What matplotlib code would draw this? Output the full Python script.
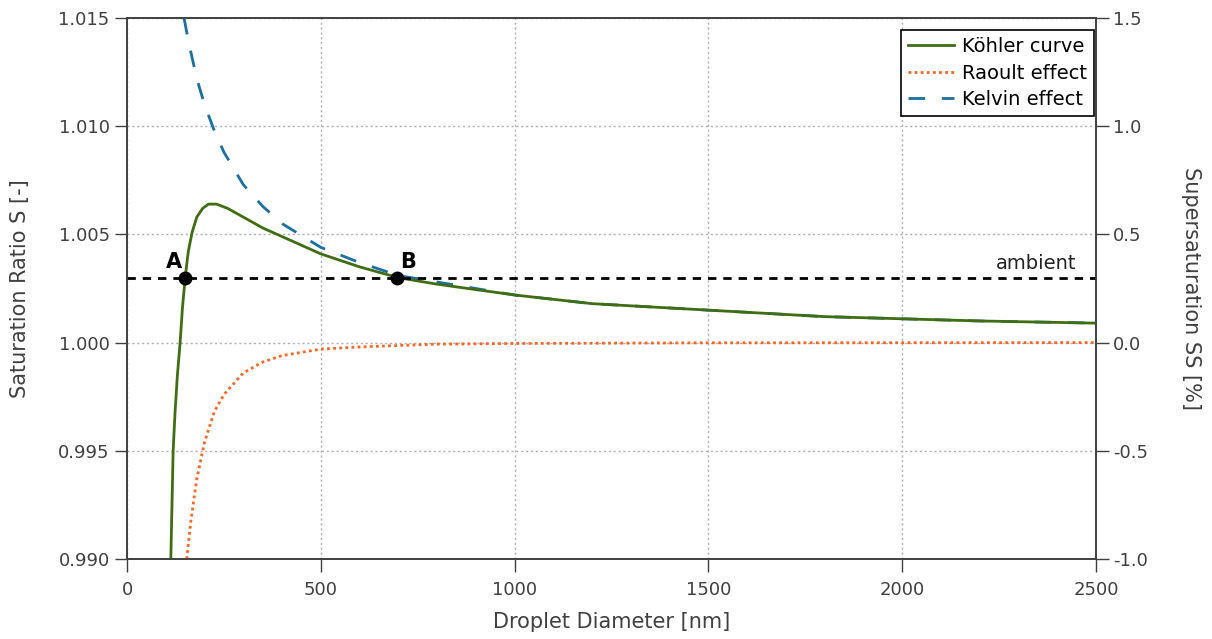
import numpy as np
import matplotlib.pyplot as plt
from matplotlib.ticker import FormatStrFormatter, MultipleLocator

plt.rcParams['font.family'] = ['DejaVu Sans']

# values (diameter in nm, saturation ratio)
kohler_d = [113, 116, 119, 124, 130, 137, 143, 150, 158, 168, 180, 195, 210, 231,
            260, 300, 350, 400, 500, 600, 700, 800, 1000, 1200, 1500, 1800, 2000, 2200, 2500]
kohler_s = [0.9900, 0.9925, 0.9950, 0.9968, 0.9985, 1.0000, 1.0016, 1.0030, 1.0042, 1.0051,
            1.0058, 1.0062, 1.0064, 1.0064, 1.0062, 1.0058, 1.0053, 1.0049, 1.0041, 1.0035,
            1.0030, 1.0027, 1.0022, 1.0018, 1.0015, 1.0012, 1.0011, 1.0010, 1.0009]

raoult_d = [154, 165, 180, 200, 225, 250, 300, 350, 400, 500, 600, 800, 1000, 1500, 2500]
raoult_s = [0.9900, 0.9918, 0.9937, 0.9954, 0.9968, 0.9976, 0.9986, 0.9991, 0.9994,
            0.9997, 0.9998, 0.99993, 0.99996, 0.99999, 1.0000]

kelvin_d = [147, 160, 180, 200, 225, 250, 300, 350, 400, 500, 600, 700, 800, 1000,
            1200, 1500, 1800, 2000, 2200, 2500]
kelvin_s = [1.0150, 1.0138, 1.0122, 1.0110, 1.0098, 1.0088, 1.0073, 1.0063, 1.0055, 1.0044,
            1.0037, 1.0031, 1.0028, 1.0022, 1.0018, 1.0015, 1.0012, 1.0011, 1.0010, 1.0009]

ambient = 1.003
point_d = [150, 697]
point_lab = ['A', 'B']

fig = plt.figure(figsize=(12.12, 6.39), dpi=100)
ax = fig.add_axes([0.1048, 0.1252, 0.7995, 0.8466])

ax.plot(kohler_d, kohler_s, color='#3f6e12', lw=2, label='Köhler curve', zorder=4)
ax.plot(raoult_d, raoult_s, color='#ff6420', lw=2, ls=(0, (1, 1.2)), label='Raoult effect', zorder=3)
ax.plot(kelvin_d, kelvin_s, color='#1a6fa3', lw=2, ls=(0, (6, 6)), label='Kelvin effect', zorder=3)
ax.axhline(ambient, color='black', lw=2, ls=(0, (3, 2.5)), zorder=5)
ax.plot(point_d, [ambient] * 2, 'o', color='black', ms=9, zorder=6)
ax.text(point_d[0] - 28, ambient + 0.00025, point_lab[0], fontsize=15, fontweight='bold', ha='center', va='bottom')
ax.text(point_d[1] + 28, ambient + 0.00025, point_lab[1], fontsize=15, fontweight='bold', ha='center', va='bottom')
ax.text(2345, ambient + 0.0002, 'ambient', fontsize=14, ha='center', va='bottom', color='#222222')

ax.set_xlim(0, 2500)
ax.set_ylim(0.990, 1.015)
ax.xaxis.set_major_locator(MultipleLocator(500))
ax.yaxis.set_major_locator(MultipleLocator(0.005))
ax.yaxis.set_major_formatter(FormatStrFormatter('%.3f'))
ax.grid(True, color='#b0b0b0', ls=(0, (1.5, 2)), lw=1)
ax.set_xlabel('Droplet Diameter [nm]', fontsize=15, color='#404040', labelpad=9)
ax.set_ylabel('Saturation Ratio S [-]', fontsize=15, color='#404040', labelpad=20)

ax2 = ax.twinx()
ax2.set_ylim(-1.0, 1.5)
ax2.yaxis.set_major_locator(MultipleLocator(0.5))
ax2.yaxis.set_major_formatter(FormatStrFormatter('%.1f'))
ax2.set_ylabel('Supersaturation SS [%]', fontsize=15, color='#404040', rotation=270, labelpad=38)

for a in (ax, ax2):
    a.tick_params(direction='out', length=9, width=1, colors='#404040', labelsize=13)
    for sp in a.spines.values():
        sp.set_color('#404040')
        sp.set_linewidth(1.2)
ax.tick_params(axis='x', pad=7)

leg = ax.legend(loc='upper right', bbox_to_anchor=(0.998, 0.978), fontsize=14, frameon=True,
                fancybox=False, edgecolor='black', framealpha=1, borderpad=0.35, handlelength=2.4,
                handletextpad=0.4, labelspacing=0.4, borderaxespad=0)
leg.get_frame().set_linewidth(1.2)

fig.savefig('out.png', dpi=100)
